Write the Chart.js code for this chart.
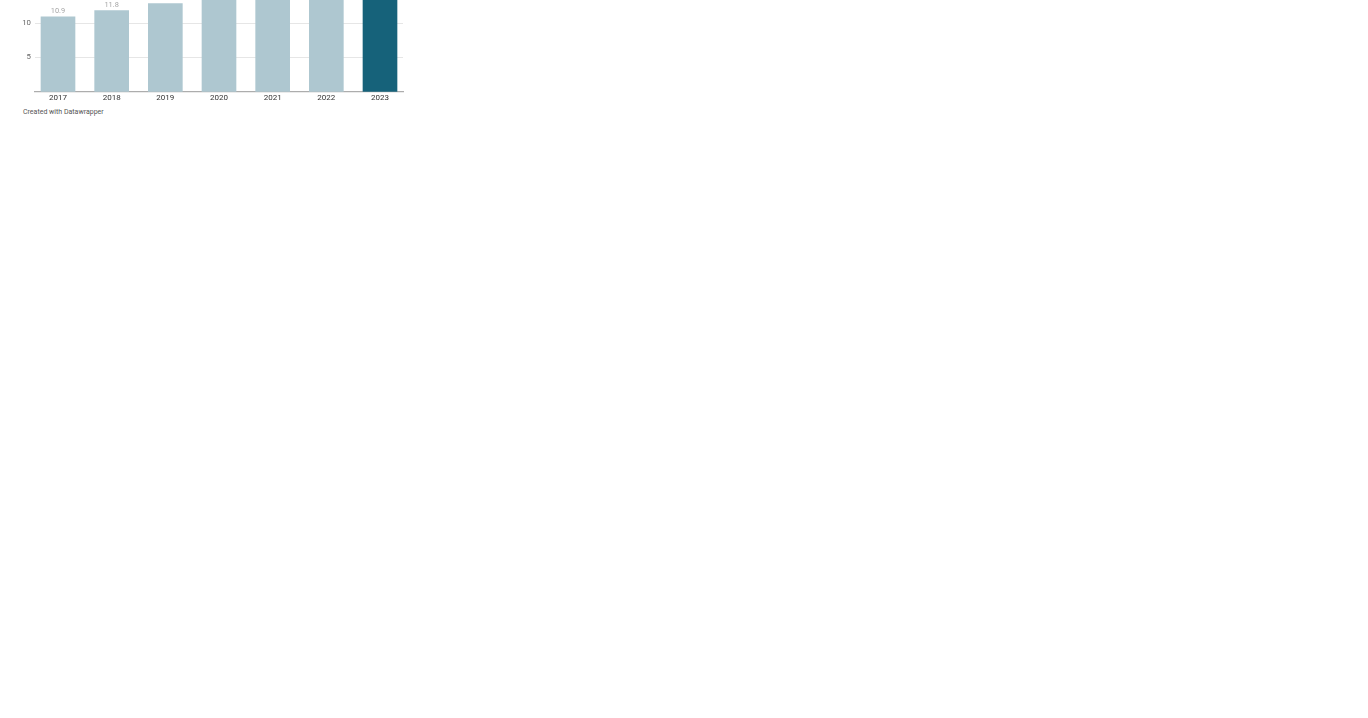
<!DOCTYPE html>
<html>
<head>
<meta charset="utf-8">
<script src="https://cdn.jsdelivr.net/npm/chart.js@4/dist/chart.umd.min.js"></script>
<style>
  html, body { margin: 0; padding: 0; background: #fff; overflow: hidden; width: 1368px; height: 718px; }
  #wrap { position: absolute; left: 0; top: -59.3px; width: 420px; height: 167px; }
  #credit { position: absolute; left: 23px; top: 108px; font-family: Roboto, "DejaVu Sans", sans-serif; font-size: 7px; line-height: 8px; color: #555; white-space: nowrap; }
</style>
</head>
<body>
<div id="wrap"><canvas id="c"></canvas></div>
<div id="credit">Created with Datawrapper</div>
<script>
const years = ["2017", "2018", "2019", "2020", "2021", "2022", "2023"];
const values = [10.9, 11.8, 12.8, 13.9, 14.6, 15.4, 16.8];
const yTicks = [5, 10, 15, 20];
const highlightYear = "2023";

const baseColor = "#aec7d0";
const highlightColor = "#16627a";

const points = years.map((y, i) => ({ x: i, y: values[i] }));
const colors = years.map(y => y === highlightYear ? highlightColor : baseColor);

const valueLabels = {
  id: "valueLabels",
  afterDatasetsDraw(chart) {
    const ctx = chart.ctx;
    const meta = chart.getDatasetMeta(0);
    ctx.save();
    ctx.font = "7.4px Roboto, 'DejaVu Sans', sans-serif";
    ctx.fillStyle = "#a6a6a6";
    ctx.textAlign = "center";
    ctx.textBaseline = "alphabetic";
    meta.data.forEach((el, i) => {
      ctx.fillText(values[i].toFixed(1), el.x, el.y - 3.5);
    });
    ctx.restore();
  }
};

new Chart(document.getElementById("c"), {
  type: "bar",
  data: {
    datasets: [{
      data: points,
      backgroundColor: colors,
      borderWidth: 0,
      barThickness: 34
    }]
  },
  options: {
    responsive: true,
    maintainAspectRatio: false,
    animation: false,
    layout: { padding: { top: 13, right: 17, left: 0, bottom: 0 } },
    plugins: { legend: { display: false }, tooltip: { enabled: false } },
    scales: {
      x: {
        type: "linear",
        offset: false,
        min: -0.4286,
        max: 6.4286,
        z: 1,
        grid: { display: false, drawTicks: false },
        border: { display: true, color: "rgba(0,0,0,0.32)", width: 1.2 },
        afterFit(s) { s.height = 16; },
        ticks: {
          stepSize: 1,
          includeBounds: false,
          autoSkip: false,
          maxRotation: 0,
          padding: 1.2,
          color: "#333",
          font: { family: "Roboto, 'DejaVu Sans', sans-serif", size: 8 },
          callback: v => (Number.isInteger(v) && years[v] !== undefined) ? years[v] : ""
        }
      },
      y: {
        min: 0,
        max: 20,
        grid: {
          drawTicks: false,
          color: ctx => ctx.tick && ctx.tick.value === 0 ? "rgba(0,0,0,0)" : "#e6e6e6",
          lineWidth: 1
        },
        border: { display: false },
        afterFit(s) { s.width = 35; },
        afterBuildTicks(s) { s.ticks = [0].concat(yTicks).map(v => ({ value: v })); },
        ticks: {
          padding: 4,
          color: "#666",
          font: { family: "Roboto, 'DejaVu Sans', sans-serif", size: 7.8 },
          callback: v => v === 0 ? "" : String(v)
        }
      }
    }
  },
  plugins: [valueLabels]
});
</script>
</body>
</html>
